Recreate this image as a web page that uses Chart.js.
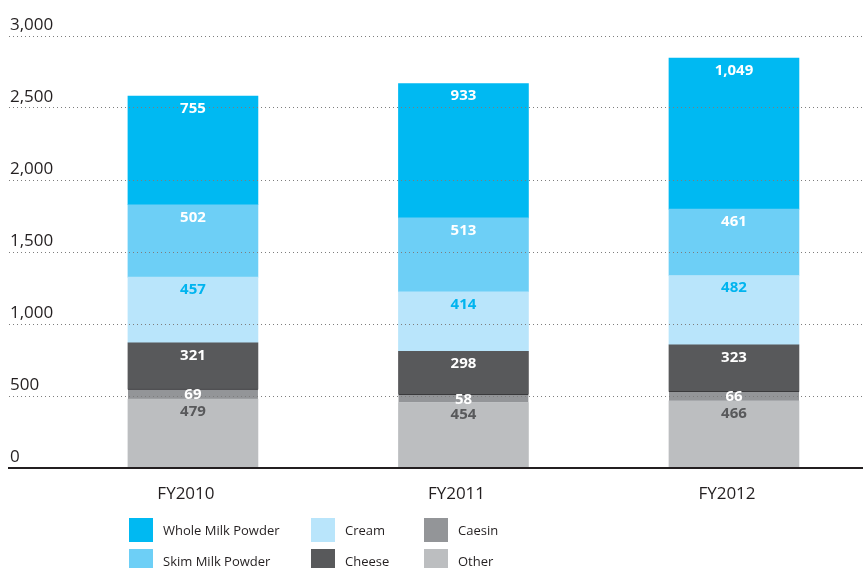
<!DOCTYPE html>
<html>
<head>
<meta charset="utf-8">
<title>Dairy product volumes</title>
<script src="https://cdn.jsdelivr.net/npm/chart.js@4.4.1/dist/chart.umd.min.js"></script>
<style>
	body { margin: 0; background: #fff; }
	#wrap { position: relative; width: 863px; height: 568px; overflow: hidden; }
	#legend { position: absolute; left: 0; top: 0; width: 863px; height: 568px; pointer-events: none; font-family: "Open Sans", sans-serif; font-size: 13px; color: #231f20; }
	#legend .item { position: absolute; height: 24px; line-height: 24px; white-space: nowrap; }
	#legend .box { display: inline-block; width: 24px; height: 24px; vertical-align: top; margin-right: 10px; }
</style>
</head>
<body>
<div id="wrap">
	<canvas id="mycanvas" width="863" height="568"></canvas>
	<div id="legend"></div>
</div>
<script>
var years = ['FY2010', 'FY2011', 'FY2012'];
var yTicks = [0, 500, 1000, 1500, 2000, 2500, 3000];

var other = [479, 454, 466];
var caesin = [69, 58, 66];
var cheese = [321, 298, 323];
var cream = [457, 414, 482];
var skimMilkPowder = [502, 513, 461];
var wholeMilkPowder = [755, 933, 1049];

// stacked bottom to top
var series = [
	{ label: 'Other', values: other, color: '#bcbec0', text: '#58595b' },
	{ label: 'Caesin', values: caesin, color: '#939598', text: '#ffffff', edge: '#3a3a3c' },
	{ label: 'Cheese', values: cheese, color: '#58595b', text: '#ffffff' },
	{ label: 'Cream', values: cream, color: '#b9e5fb', text: '#00b4ef' },
	{ label: 'Skim Milk Powder', values: skimMilkPowder, color: '#6dcff6', text: '#ffffff' },
	{ label: 'Whole Milk Powder', values: wholeMilkPowder, color: '#00b9f2', text: '#ffffff' }
];

// legend is laid out in columns: WMP/SMP, Cream/Cheese, Caesin/Other
var legendOrder = ['Whole Milk Powder', 'Skim Milk Powder', 'Cream', 'Cheese', 'Caesin', 'Other'];
var legendCols = [129, 311, 424];
var legendRows = [518, 549];

var datasets = series.map(function(s) {
	return {
		label: s.label,
		data: s.values.map(function(v, i) { return { x: i, y: v }; }),
		backgroundColor: s.color,
		borderColor: s.edge || s.color,
		borderWidth: s.edge ? { top: 1, left: 0, right: 0, bottom: 0 } : 0,
		borderSkipped: false,
		labelColor: s.text,
		barThickness: 130
	};
});

// value printed near the top of every segment
var segmentLabels = {
	id: 'segmentLabels',
	afterDraw: function(chart) {
		var ctx = chart.ctx;
		ctx.save();
		ctx.font = 'bold 15px "Open Sans"';
		ctx.textAlign = 'center';
		ctx.textBaseline = 'middle';
		chart.data.datasets.forEach(function(ds, i) {
			chart.getDatasetMeta(i).data.forEach(function(bar, j) {
				var h = bar.base - bar.y;
				ctx.fillStyle = ds.labelColor;
				ctx.fillText(ds.data[j].y.toLocaleString('en-US'), bar.x, bar.y + Math.min(12.5, h / 2 + 1));
			});
		});
		ctx.restore();
	}
};

var ctx = document.getElementById('mycanvas');

var barGraph = new Chart(ctx, {
	type: 'bar',
	data: { datasets: datasets },
	plugins: [segmentLabels],
	options: {
		responsive: false,
		animation: false,
		layout: { padding: { left: 9, top: 36, right: 0, bottom: 0 } },
		plugins: {
			legend: { display: false },
			tooltip: { enabled: false }
		},
		scales: {
			x: {
				type: 'linear',
				stacked: true,
				offset: false,
				min: -0.68,
				max: 2.477,
				afterBuildTicks: function(scale) {
					scale.ticks = years.map(function(y, i) { return { value: i }; });
				},
				afterFit: function(scale) { scale.height = 100; },
				grid: { display: false },
				border: { display: true, color: '#231f20', width: 2, z: 1 },
				ticks: {
					padding: 8,
					labelOffset: -7,
					color: '#231f20',
					font: { family: 'Open Sans', size: 17 },
					callback: function(v) { return years[v]; }
				}
			},
			y: {
				stacked: true,
				min: 0,
				max: 3000,
				afterBuildTicks: function(scale) {
					scale.ticks = yTicks.map(function(v) { return { value: v }; });
				},
				afterFit: function(scale) { scale.width = 0; },
				grid: {
					z: 1,
					drawTicks: false,
					lineWidth: 1,
					color: function(c) { return c.tick && c.tick.value === 0 ? 'rgba(0,0,0,0)' : '#7d7d7d'; }
				},
				border: { display: false, dash: [1, 3] },
				ticks: {
					mirror: true,
					padding: 1,
					labelOffset: -11,
					color: '#231f20',
					font: { family: 'Open Sans', size: 17 },
					callback: function(v) { return v.toLocaleString('en-US'); }
				}
			}
		}
	}
});

// html legend built from the chart's datasets
var legend = document.getElementById('legend');
legendOrder.forEach(function(name, k) {
	var ds = barGraph.data.datasets.filter(function(d) { return d.label === name; })[0];
	var item = document.createElement('div');
	item.className = 'item';
	item.style.left = legendCols[Math.floor(k / 2)] + 'px';
	item.style.top = legendRows[k % 2] + 'px';
	item.innerHTML = '<span class="box" style="background:' + ds.backgroundColor + '"></span>' + ds.label;
	legend.appendChild(item);
});
</script>
</body>
</html>
